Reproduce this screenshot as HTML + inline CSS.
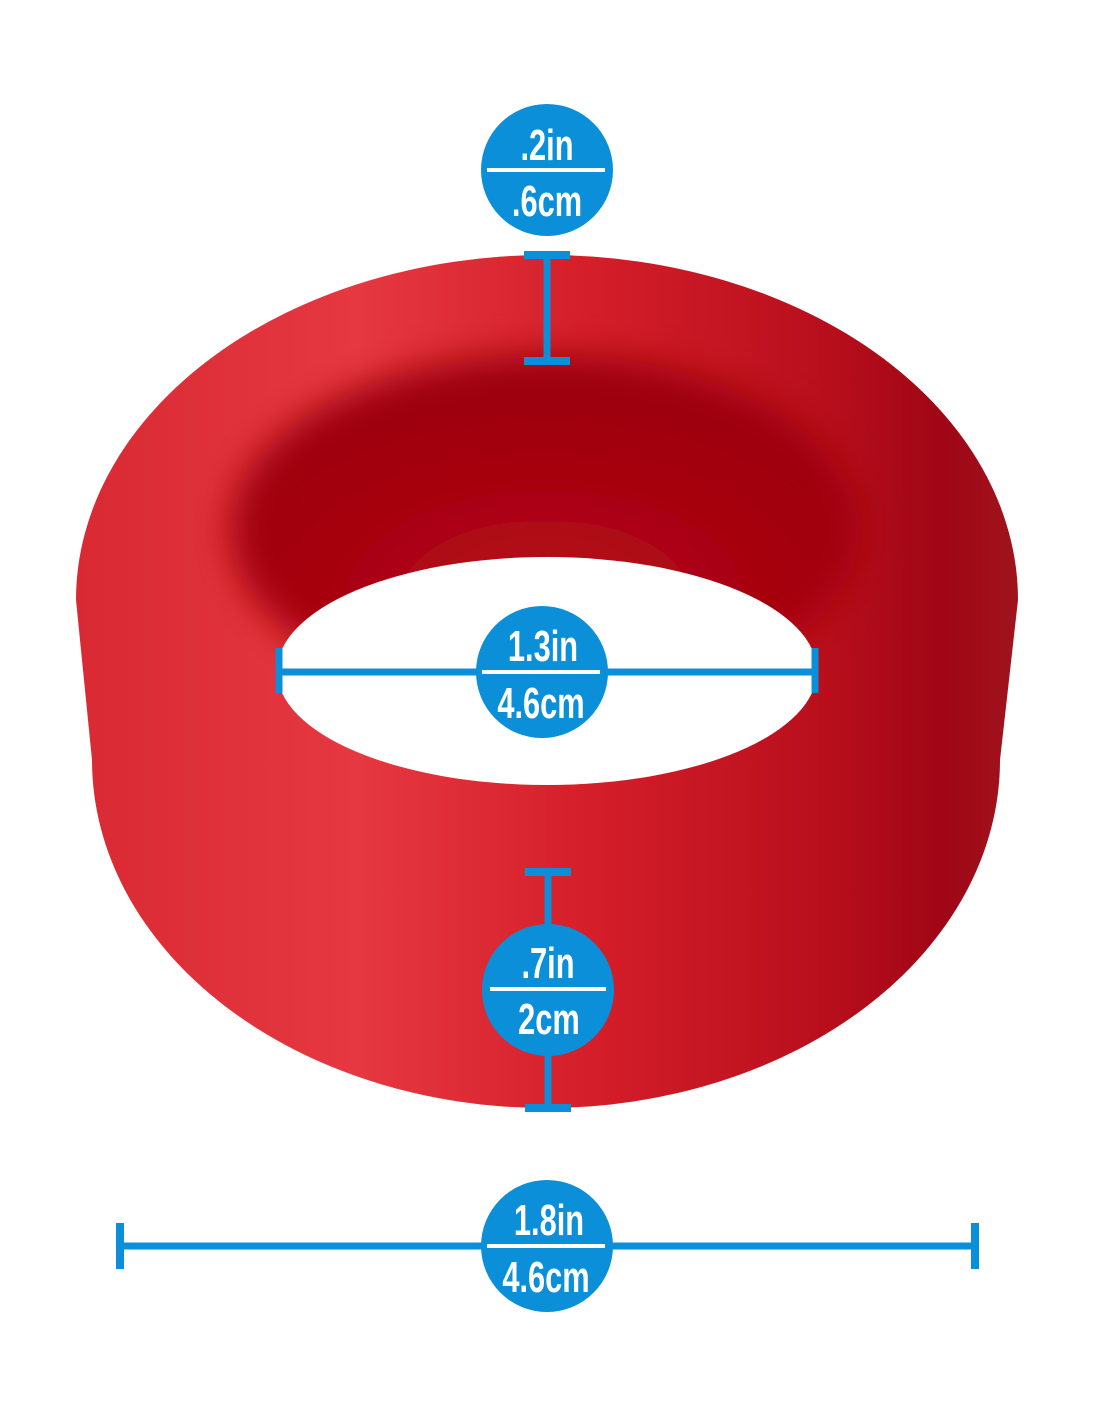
<!DOCTYPE html>
<html><head><meta charset="utf-8">
<style>
html,body{margin:0;padding:0;background:#fff;}
svg{display:block}
text{font-family:"Liberation Sans Narrow","Liberation Sans",sans-serif;font-weight:bold;fill:#fff;}
</style></head>
<body>
<svg width="1100" height="1422" viewBox="0 0 1100 1422" xmlns="http://www.w3.org/2000/svg">
<defs>
<linearGradient id="body" x1="0" y1="0" x2="1" y2="0">
<stop offset="0" stop-color="#d92a33"/>
<stop offset="0.3" stop-color="#e63840"/>
<stop offset="0.55" stop-color="#d41e2a"/>
<stop offset="0.8" stop-color="#b80e1c"/>
<stop offset="0.92" stop-color="#a00616"/>
<stop offset="1" stop-color="#a0141c"/>
</linearGradient>
<radialGradient id="inner" cx="0.5" cy="0.7" r="0.7">
<stop offset="0" stop-color="#b80c1c"/>
<stop offset="0.6" stop-color="#a4020e"/>
<stop offset="1" stop-color="#9a0008"/>
</radialGradient>
<filter id="blur" x="-20%" y="-20%" width="140%" height="140%"><feGaussianBlur stdDeviation="18"/></filter>
</defs>
<path d="M76,600 A471,345 0 0 1 1018,600 L1000,760 A454,348 0 0 1 92,760 Z" fill="url(#body)"/>
<ellipse cx="545" cy="530" rx="315" ry="175" fill="url(#inner)" filter="url(#blur)"/>
<ellipse cx="547" cy="671" rx="270" ry="114" fill="#fff"/>

<g fill="#0a8fd8" stroke="#0a8fd8">
<line x1="547" y1="255" x2="547" y2="361" stroke-width="7"/>
<line x1="524" y1="255" x2="570" y2="255" stroke-width="8"/>
<line x1="524" y1="361" x2="570" y2="361" stroke-width="8"/>
<circle cx="547" cy="170" r="66" stroke="none"/>
<line x1="278" y1="672" x2="815" y2="672" stroke-width="7"/>
<line x1="279" y1="648" x2="279" y2="693" stroke-width="7"/>
<line x1="815" y1="648" x2="815" y2="693" stroke-width="7"/>
<circle cx="542" cy="672" r="66" stroke="none"/>
<line x1="548" y1="872" x2="548" y2="1108" stroke-width="7"/>
<line x1="525" y1="872" x2="571" y2="872" stroke-width="8"/>
<line x1="525" y1="1108" x2="571" y2="1108" stroke-width="8"/>
<circle cx="548" cy="990" r="66" stroke="none"/>
<line x1="120" y1="1246" x2="975" y2="1246" stroke-width="7"/>
<line x1="120" y1="1223" x2="120" y2="1269" stroke-width="8"/>
<line x1="975" y1="1223" x2="975" y2="1269" stroke-width="8"/>
<circle cx="547" cy="1246" r="66" stroke="none"/>
</g>
<g fill="#fff">
<rect x="487" y="168" width="118" height="4"/>
<rect x="482" y="670" width="118" height="4"/>
<rect x="490" y="987" width="116" height="4"/>
<rect x="487" y="1244" width="118" height="4"/>
</g>
<g font-size="44" text-anchor="middle">
<text x="547" y="160" transform="translate(547 0) scale(0.7 1) translate(-547 0)">.2in</text>
<text x="547" y="216" transform="translate(547 0) scale(0.7 1) translate(-547 0)">.6cm</text>
<text x="543" y="661" transform="translate(543 0) scale(0.7 1) translate(-543 0)">1.3in</text>
<text x="541" y="718" transform="translate(541 0) scale(0.7 1) translate(-541 0)">4.6cm</text>
<text x="548" y="978" transform="translate(548 0) scale(0.7 1) translate(-548 0)">.7in</text>
<text x="549" y="1034" transform="translate(549 0) scale(0.7 1) translate(-549 0)">2cm</text>
<text x="549" y="1235" transform="translate(549 0) scale(0.7 1) translate(-549 0)">1.8in</text>
<text x="546" y="1292" transform="translate(546 0) scale(0.7 1) translate(-546 0)">4.6cm</text>
</g>
</svg>
</body></html>
